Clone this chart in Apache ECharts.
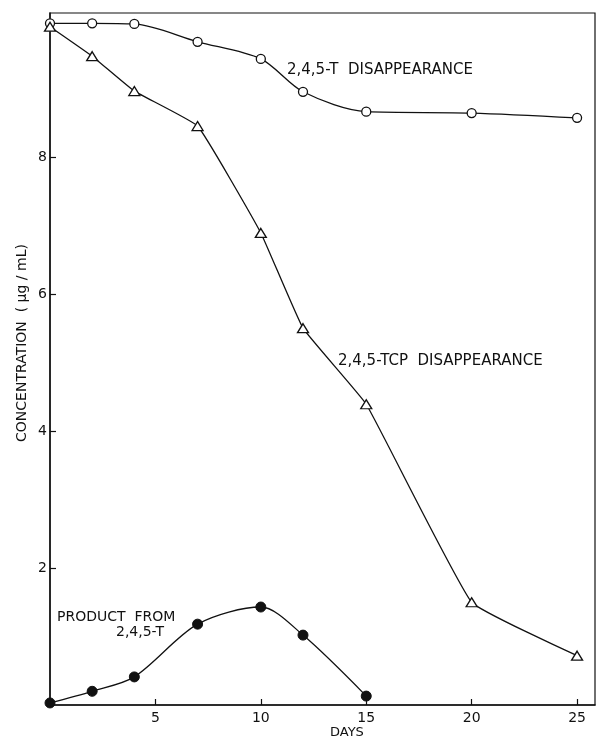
<!DOCTYPE html>
<html>
<head>
<meta charset="utf-8">
<script src="https://cdn.jsdelivr.net/npm/echarts@6/dist/echarts.min.js"></script>
<style>
  html, body { margin: 0; padding: 0; background: #fff; }
  #main { width: 597px; height: 741px; }
</style>
</head>
<body>
<div id="main"></div>
<script>
  // data
  var days = [0, 2, 4, 7, 10, 12, 15, 20, 25];
  var tDisappear = [9.95, 9.95, 9.94, 9.68, 9.43, 8.95, 8.66, 8.64, 8.57];
  var tcpDisappear = [9.9, 9.47, 8.96, 8.45, 6.89, 5.5, 4.39, 1.5, 0.72];
  var productDays = [0, 2, 4, 7, 10, 12, 15];
  var product = [0.03, 0.2, 0.41, 1.18, 1.43, 1.02, 0.13];
  var xTicks = [5, 10, 15, 20, 25];
  var yTicks = [2, 4, 6, 8];

  function pairs(xs, ys) {
    return xs.map(function (x, i) { return [x, ys[i]]; });
  }

  var font = 'DejaVu Sans';
  var myChart = echarts.init(document.getElementById('main'));

  var option = {
    animation: false,
    backgroundColor: '#fff',
    grid: {
      left: 50, right: 2, top: 13, bottom: 36,
      show: true, borderColor: '#111', borderWidth: 1.2
    },
    xAxis: {
      type: 'value', min: 0, max: 25.85,
      splitLine: { show: false },
      axisLine: { lineStyle: { color: '#111', width: 1.5 } },
      axisTick: { inside: true, length: 6, customValues: xTicks, lineStyle: { color: '#111', width: 1.2 } },
      axisLabel: { customValues: xTicks, color: '#111', fontFamily: font, fontSize: 14, margin: 6 }
    },
    yAxis: {
      type: 'value', min: 0, max: 10.1,
      splitLine: { show: false },
      axisLine: { lineStyle: { color: '#111', width: 1.5 } },
      axisTick: { inside: true, length: 6, customValues: yTicks, lineStyle: { color: '#111', width: 1.2 } },
      axisLabel: { customValues: yTicks, color: '#111', fontFamily: font, fontSize: 14, margin: 3 }
    },
    series: [
      {
        name: '2,4,5-T', type: 'line', smooth: 0.3,
        data: pairs(days, tDisappear),
        symbol: 'circle', symbolSize: 9,
        lineStyle: { color: '#111', width: 1.3 },
        itemStyle: { color: '#fff', borderColor: '#111', borderWidth: 1.3 }
      },
      {
        name: '2,4,5-TCP', type: 'line', smooth: 0.1,
        data: pairs(days, tcpDisappear),
        symbol: 'triangle', symbolSize: [11, 9],
        lineStyle: { color: '#111', width: 1.3 },
        itemStyle: { color: '#fff', borderColor: '#111', borderWidth: 1.3 }
      },
      {
        name: 'product', type: 'line', smooth: 0.3,
        data: pairs(productDays, product),
        symbol: 'circle', symbolSize: 10,
        lineStyle: { color: '#111', width: 1.3 },
        itemStyle: { color: '#111', borderColor: '#111' }
      }
    ],
    graphic: [
      { type: 'text', left: 287, top: 63, style: { text: '2,4,5-T  DISAPPEARANCE', font: '15px "DejaVu Sans"', fill: '#111' } },
      { type: 'text', left: 338, top: 354, style: { text: '2,4,5-TCP  DISAPPEARANCE', font: '15px "DejaVu Sans"', fill: '#111' } },
      { type: 'text', left: 57, top: 610, style: { text: 'PRODUCT  FROM', font: '14px "DejaVu Sans"', fill: '#111' } },
      { type: 'text', left: 116, top: 625, style: { text: '2,4,5-T', font: '14px "DejaVu Sans"', fill: '#111' } },
      { type: 'text', left: 330, top: 726, style: { text: 'DAYS', font: '13px "DejaVu Sans"', fill: '#111' } },
      {
        type: 'text', x: 22, y: 343, rotation: Math.PI / 2,
        style: { text: 'CONCENTRATION  ( \u03bcg / mL)', font: '14px "DejaVu Sans"', fill: '#111', align: 'center', verticalAlign: 'middle' }
      }
    ]
  };

  myChart.setOption(option);
</script>
</body>
</html>
